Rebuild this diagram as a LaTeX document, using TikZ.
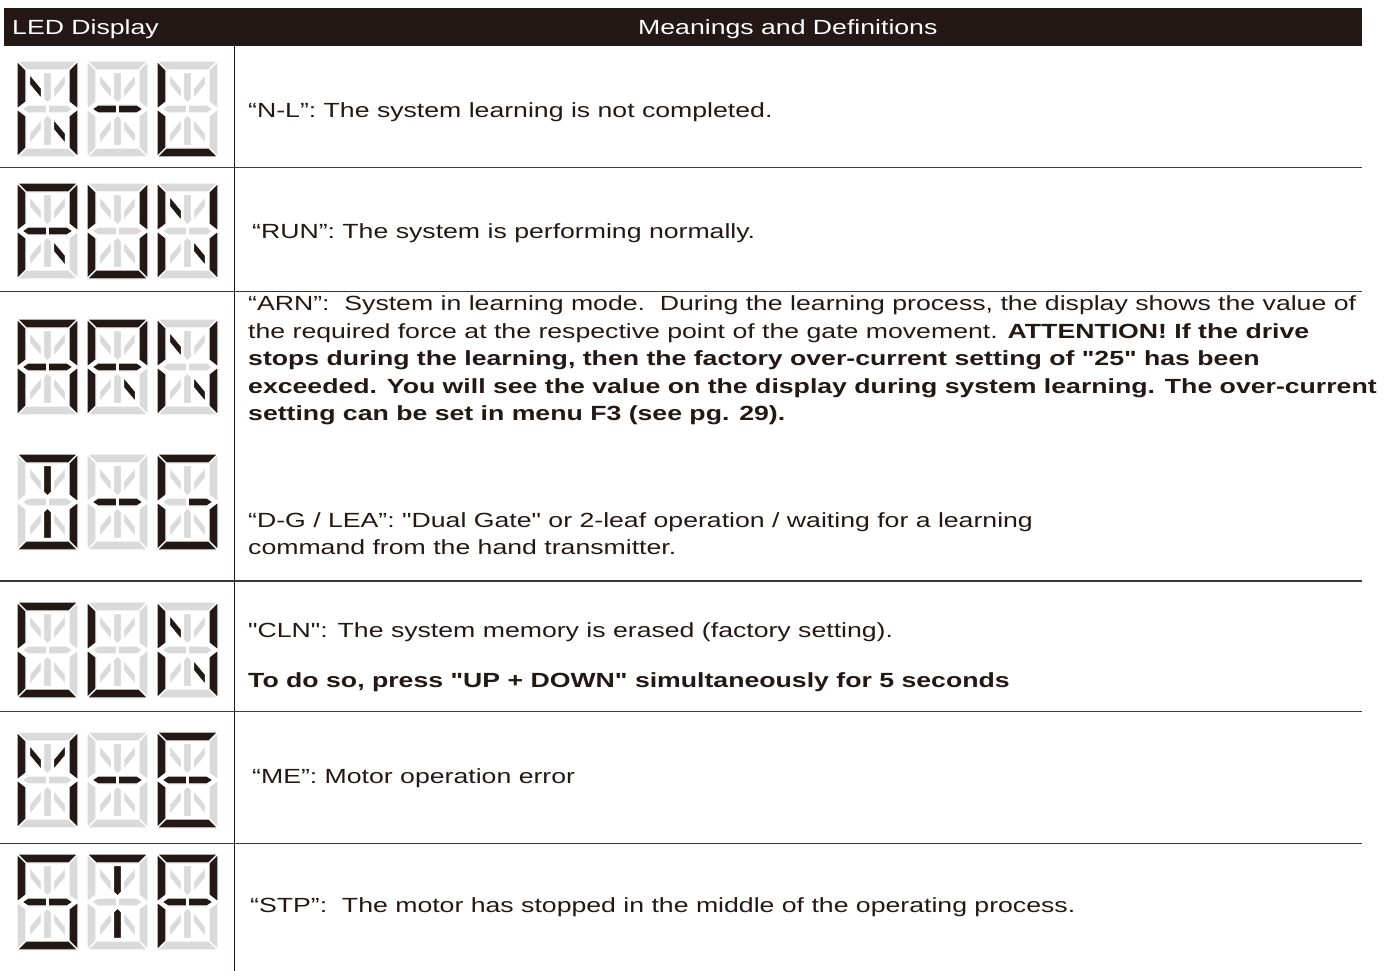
\documentclass[tikz,border=0pt]{standalone}
\usepackage{fontspec}
\setmainfont{Liberation Sans}[FakeStretch=1.3, Ligatures=TeXOff]
\definecolor{ink}{HTML}{231815}
\definecolor{segdim}{HTML}{DADADA}
\definecolor{rule}{HTML}{3A3A3A}

% 14-segment outlines, local units (x right, y down); cell 61 x 96
\def\sega{(0,0)--(61,0)--(52,9)--(9,9)--cycle}
\def\segd{(0,96)--(61,96)--(52,87)--(9,87)--cycle}
\def\segf{(0,0)--(9,9)--(9,41)--(0,48)--cycle}
\def\sege{(0,96)--(9,87)--(9,55)--(0,48)--cycle}
\def\segb{(61,0)--(52,9)--(52,41)--(61,48)--cycle}
\def\segc{(61,96)--(52,87)--(52,55)--(61,48)--cycle}
\def\segg{(5,48)--(11,44)--(29.8,44)--(29.8,52)--(11,52)--cycle}
\def\segp{(56,48)--(50,44)--(31.2,44)--(31.2,52)--(50,52)--cycle}
\def\segi{(26.5,11.5)--(34.5,11.5)--(34.5,38)--(30.5,42)--(26.5,38)--cycle}
\def\segl{(26.5,84.5)--(34.5,84.5)--(34.5,58)--(30.5,54)--(26.5,58)--cycle}
\def\segh{(12.5,13)--(12.5,23.5)--(24.5,38)--(24.5,27.5)--cycle}
\def\segj{(48.5,13)--(48.5,23.5)--(36.5,38)--(36.5,27.5)--cycle}
\def\segk{(12.5,83)--(12.5,72.5)--(24.5,58)--(24.5,68.5)--cycle}
\def\segm{(48.5,83)--(48.5,72.5)--(36.5,58)--(36.5,68.5)--cycle}

\tikzset{
  segoff/.style={fill=segdim, draw=white, line width=1.2pt},
  segon/.style={fill=ink, draw=white, line width=1.2pt},
  sep/.style={draw=rule, line width=1.4pt},
  headtxt/.style={anchor=base west, inner sep=0pt, text=white},
  txt/.style={anchor=base west, inner sep=0pt, text=ink},
}

% one character cell: #1,#2 = top-left corner, #3 = lit segments
\newcommand\lcdcell[3]{%
  \begin{scope}[shift={(#1,#2)}]
    \foreach \s in {a,b,c,d,e,f,g,p,h,i,j,k,l,m}{%
      \edef\segtmp{\noexpand\path[segoff] \csname seg\s\endcsname;}\segtmp}
    \foreach \s in {#3}{%
      \edef\segtmp{\noexpand\path[segon] \csname seg\s\endcsname;}\segtmp}
  \end{scope}}

\begin{document}
\begin{tikzpicture}[x=1pt,y=-1pt,font=\fontsize{20.5}{27.6}\selectfont]
\useasboundingbox (0,0) rectangle (1395,971);

% header bar
\fill[ink] (4,8.3) rectangle (1362,45.7);
\node[headtxt] (h1) at (12,35) {LED Display};
\node[headtxt] (h2) at (638,35) {Meanings and Definitions};

% column divider and row rules
\draw[ink, line width=1pt] (234.5,45.7) -- (234.5,971);
\foreach \yy in {167.5,291.5,581,711.5,843.5}
  \draw[sep] (0,\yy) -- (1362,\yy);

% displays
\lcdcell{17}{61}{f,e,b,c,h,m}
\lcdcell{87}{61}{g,p}
\lcdcell{157}{61}{f,e,d}

\lcdcell{17}{183}{a,f,e,b,g,p,m}
\lcdcell{87}{183}{f,e,b,c,d}
\lcdcell{157}{183}{f,e,b,c,h,m}

\lcdcell{17}{319}{a,f,e,b,c,g,p}
\lcdcell{87}{319}{a,f,e,b,g,p,m}
\lcdcell{157}{319}{f,e,b,c,h,m}

\lcdcell{17}{454}{a,b,c,d,i,l}
\lcdcell{87}{454}{g,p}
\lcdcell{157}{454}{a,f,e,d,c,p}

\lcdcell{17}{602}{a,f,e,d}
\lcdcell{87}{602}{f,e,d}
\lcdcell{157}{602}{f,e,b,c,h,m}

\lcdcell{17}{732}{f,e,b,c,h,j}
\lcdcell{87}{732}{g,p}
\lcdcell{157}{732}{a,f,e,d,g,p}

\lcdcell{17}{854}{a,f,g,p,c,d}
\lcdcell{87}{854}{a,i,l}
\lcdcell{157}{854}{a,f,e,b,g,p}

% meanings
\node[txt] (t1) at (248,117.3) {“N-L”: The system learning is not completed.};
\node[txt] (t2) at (252,238.3) {“RUN”: The system is performing normally.};
\node[txt] (t3a) at (248,310.5) {“ARN”:\ \ System in learning mode.\ \ During the learning process, the display shows the value of};
\node[txt] (t3b) at (248,338.1) {the required force at the respective point of the gate movement. \textbf{ATTENTION! If the drive}};
\node[txt] (t3c) at (248,365.7) {\textbf{stops during the learning, then the factory over-current setting of "25" has been}};
\node[txt] (t3d) at (248,393.3) {\textbf{exceeded. You will see the value on the display during system learning. The over-current}};
\node[txt] (t3e) at (248,420.9) {\textbf{setting can be set in menu F3 (see pg. 29).}};
\node[txt] (t3f) at (248,527.3) {“D-G / LEA”: "Dual Gate" or 2-leaf operation / waiting for a learning};
\node[txt] (t3g) at (248,554.9) {command from the hand transmitter.};
\node[txt] (t4a) at (248,637) {"CLN": The system memory is erased (factory setting).};
\node[txt] (t4b) at (248,687) {\textbf{To do so, press "UP + DOWN" simultaneously for 5 seconds}};
\node[txt] (t5) at (252,783) {“ME”: Motor operation error};
\node[txt] (t6) at (250,912) {“STP”:\ \ The motor has stopped in the middle of the operating process.};
\end{tikzpicture}
\end{document}
